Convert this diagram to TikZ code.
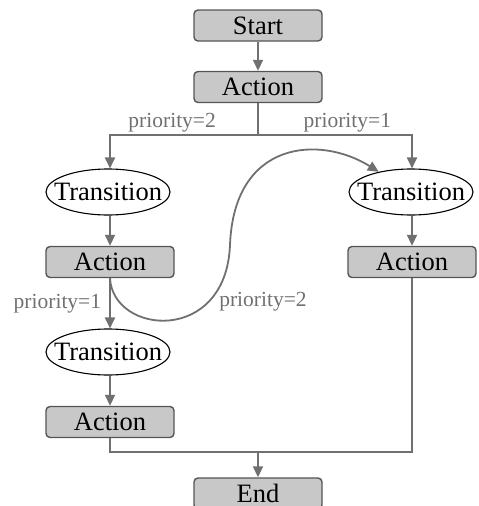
\documentclass[tikz,border=0pt]{standalone}
\usepackage{fontspec}
\setmainfont{Liberation Serif}
\usetikzlibrary{arrows.meta,shapes.geometric}
\definecolor{boxfill}{HTML}{C8C8C8}
\definecolor{boxline}{HTML}{555555}
\definecolor{wire}{HTML}{707070}
\tikzset{
  actbox/.style={draw=boxline, fill=boxfill, line width=1.4pt, rounded corners=4pt,
    minimum width=128pt, minimum height=31pt, inner sep=0pt, font=\fontsize{26.5}{30}\selectfont},
  trans/.style={draw=black, ellipse, line width=1.1pt, fill=white,
    minimum width=124pt, minimum height=46pt, inner xsep=-11pt, inner ysep=0pt,
    font=\fontsize{26.5}{30}\selectfont},
  wireline/.style={draw=wire, line width=1.8pt, -{Triangle[length=11pt,width=10pt]}},
  lbl/.style={text=wire, font=\fontsize{21.5}{25}\selectfont, inner sep=2pt}
}
\begin{document}
\begin{tikzpicture}[x=1pt,y=-1pt]
      \useasboundingbox (0,0) rectangle (479,506);
      \node[actbox] (start) at (258,25.5) {Start};
      \node[actbox] (act1) at (258,87) {Action};
      \node[trans] (tr1) at (108,192) {Transition};
      \node[trans] (tr2) at (411,192) {Transition};
      \node[actbox] (act2) at (110,262) {Action};
      \node[actbox] (act4) at (412,262) {Action};
      \node[trans] (tr3) at (108,352) {Transition};
      \node[actbox] (act3) at (110,422) {Action};
      \node[actbox] (stop) at (258,493.5) {End};
      \coordinate (split) at (258,135);
      \coordinate (join) at (258,452);
      \draw[wireline] (start) -- (act1);
      \draw[draw=wire, line width=1.8pt] (act1) -- (split);
      \draw[wireline] (split) -| (act2.north |- tr1.north) node[lbl, pos=0.29, above] {priority=2};
      \draw[wireline] (split) -| (act4.north |- tr2.north) node[lbl, pos=0.29, above] {priority=1};
      \draw[wireline] (tr1.south -| act2.north) -- (act2);
      \draw[wireline] (tr2.south -| act4.north) -- (act4);
      \draw[wireline] (act2) -- (act2.south |- tr3.north) node[lbl, midway, left, xshift=-6pt] {priority=1};
      \draw[wireline] (act2.south) .. controls (113,335) and (226,345) .. (230,245)
        .. controls (234,140) and (320,135) .. (tr2);
      \node[lbl] (p4) at (263,302) {priority=2};
      \draw[wireline] (tr3.south -| act3.north) -- (act3);
      \draw[draw=wire, line width=1.8pt] (act3) |- (join) -| (act4);
      \draw[wireline] (join) -- (stop);
    \end{tikzpicture}
\end{document}
